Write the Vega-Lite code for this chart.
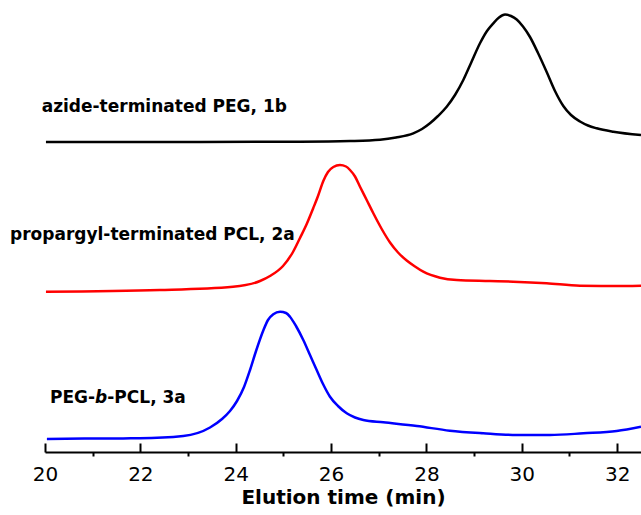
{
  "$schema": "https://vega.github.io/schema/vega-lite/v6.json",
  "width": 596,
  "height": 452,
  "autosize": {"type": "none"},
  "padding": {"left": 45, "top": 0, "right": 0, "bottom": 63},
  "background": "white",
  "config": {"view": {"stroke": null}},
  "datasets": {
    "curves": [
      {"t": 20.02, "y": 310, "s": "1b"},
      {"t": 21.15, "y": 310, "s": "1b"},
      {"t": 23.25, "y": 310, "s": "1b"},
      {"t": 25.35, "y": 310.3, "s": "1b"},
      {"t": 26.40, "y": 311, "s": "1b"},
      {"t": 27.026, "y": 312.3, "s": "1b"},
      {"t": 27.362, "y": 314.5, "s": "1b"},
      {"t": 27.724, "y": 318.7, "s": "1b"},
      {"t": 27.907, "y": 323, "s": "1b"},
      {"t": 28.074, "y": 328.7, "s": "1b"},
      {"t": 28.242, "y": 336, "s": "1b"},
      {"t": 28.425, "y": 345.3, "s": "1b"},
      {"t": 28.599, "y": 357, "s": "1b"},
      {"t": 28.773, "y": 372, "s": "1b"},
      {"t": 28.935, "y": 389, "s": "1b"},
      {"t": 29.123, "y": 408.7, "s": "1b"},
      {"t": 29.270, "y": 421, "s": "1b"},
      {"t": 29.402, "y": 428.7, "s": "1b"},
      {"t": 29.522, "y": 434.5, "s": "1b"},
      {"t": 29.648, "y": 437.5, "s": "1b"},
      {"t": 29.774, "y": 436, "s": "1b"},
      {"t": 29.893, "y": 432.5, "s": "1b"},
      {"t": 30.025, "y": 425.5, "s": "1b"},
      {"t": 30.172, "y": 415, "s": "1b"},
      {"t": 30.340, "y": 399, "s": "1b"},
      {"t": 30.522, "y": 380, "s": "1b"},
      {"t": 30.696, "y": 361, "s": "1b"},
      {"t": 30.871, "y": 346, "s": "1b"},
      {"t": 31.032, "y": 337, "s": "1b"},
      {"t": 31.221, "y": 330.5, "s": "1b"},
      {"t": 31.388, "y": 326.5, "s": "1b"},
      {"t": 31.571, "y": 323.7, "s": "1b"},
      {"t": 31.919, "y": 320.3, "s": "1b"},
      {"t": 32.50, "y": 317, "s": "1b"},

      {"t": 20.02, "y": 160.3, "s": "2a"},
      {"t": 22.41, "y": 162, "s": "2a"},
      {"t": 23.943, "y": 165.3, "s": "2a"},
      {"t": 24.509, "y": 171, "s": "2a"},
      {"t": 24.719, "y": 176, "s": "2a"},
      {"t": 24.992, "y": 186, "s": "2a"},
      {"t": 25.201, "y": 200, "s": "2a"},
      {"t": 25.348, "y": 214, "s": "2a"},
      {"t": 25.489, "y": 228, "s": "2a"},
      {"t": 25.627, "y": 244, "s": "2a"},
      {"t": 25.726, "y": 256, "s": "2a"},
      {"t": 25.837, "y": 271, "s": "2a"},
      {"t": 25.935, "y": 280, "s": "2a"},
      {"t": 26.047, "y": 285, "s": "2a"},
      {"t": 26.187, "y": 287, "s": "2a"},
      {"t": 26.313, "y": 285.5, "s": "2a"},
      {"t": 26.397, "y": 282, "s": "2a"},
      {"t": 26.502, "y": 275.5, "s": "2a"},
      {"t": 26.607, "y": 265.3, "s": "2a"},
      {"t": 26.747, "y": 252, "s": "2a"},
      {"t": 26.886, "y": 238.7, "s": "2a"},
      {"t": 27.062, "y": 223, "s": "2a"},
      {"t": 27.236, "y": 209.5, "s": "2a"},
      {"t": 27.404, "y": 199.5, "s": "2a"},
      {"t": 27.586, "y": 191.5, "s": "2a"},
      {"t": 27.760, "y": 185.5, "s": "2a"},
      {"t": 27.934, "y": 180.3, "s": "2a"},
      {"t": 28.284, "y": 174.3, "s": "2a"},
      {"t": 28.635, "y": 172, "s": "2a"},
      {"t": 29.33, "y": 171, "s": "2a"},
      {"t": 29.82, "y": 170.3, "s": "2a"},
      {"t": 30.52, "y": 168.7, "s": "2a"},
      {"t": 31.22, "y": 166.3, "s": "2a"},
      {"t": 31.92, "y": 166, "s": "2a"},
      {"t": 32.50, "y": 166.3, "s": "2a"},

      {"t": 20.04, "y": 13, "s": "3a"},
      {"t": 21.15, "y": 13.5, "s": "3a"},
      {"t": 21.99, "y": 13.7, "s": "3a"},
      {"t": 22.90, "y": 16, "s": "3a"},
      {"t": 23.461, "y": 24.5, "s": "3a"},
      {"t": 23.713, "y": 33, "s": "3a"},
      {"t": 23.880, "y": 41, "s": "3a"},
      {"t": 24.027, "y": 51, "s": "3a"},
      {"t": 24.174, "y": 65, "s": "3a"},
      {"t": 24.300, "y": 82, "s": "3a"},
      {"t": 24.426, "y": 101, "s": "3a"},
      {"t": 24.578, "y": 121.5, "s": "3a"},
      {"t": 24.677, "y": 132, "s": "3a"},
      {"t": 24.788, "y": 137.8, "s": "3a"},
      {"t": 24.929, "y": 140.3, "s": "3a"},
      {"t": 25.055, "y": 139, "s": "3a"},
      {"t": 25.138, "y": 135.3, "s": "3a"},
      {"t": 25.264, "y": 126, "s": "3a"},
      {"t": 25.417, "y": 112, "s": "3a"},
      {"t": 25.558, "y": 97, "s": "3a"},
      {"t": 25.698, "y": 82, "s": "3a"},
      {"t": 25.831, "y": 68, "s": "3a"},
      {"t": 25.977, "y": 55.3, "s": "3a"},
      {"t": 26.145, "y": 46, "s": "3a"},
      {"t": 26.328, "y": 38.7, "s": "3a"},
      {"t": 26.502, "y": 34.5, "s": "3a"},
      {"t": 26.676, "y": 32, "s": "3a"},
      {"t": 27.095, "y": 29.7, "s": "3a"},
      {"t": 27.80, "y": 26, "s": "3a"},
      {"t": 28.49, "y": 21.3, "s": "3a"},
      {"t": 29.19, "y": 18.7, "s": "3a"},
      {"t": 29.89, "y": 17, "s": "3a"},
      {"t": 30.59, "y": 17, "s": "3a"},
      {"t": 31.29, "y": 18.7, "s": "3a"},
      {"t": 31.99, "y": 21, "s": "3a"},
      {"t": 32.50, "y": 25.3, "s": "3a"}
    ],
    "labels": [
      {"txt": "azide-terminated PEG, 1b", "t": 19.93, "y": 340.3},
      {"txt": "propargyl-terminated PCL, 2a", "t": 19.266, "y": 212},
      {"txt": "PEG-", "t": 20.105, "y": 48.7},
      {"txt": "-PCL, 3a", "t": 21.307, "y": 48.7}
    ],
    "italic": [
      {"txt": "b", "t": 21.051, "y": 48.7}
    ]
  },
  "layer": [
    {
      "data": {"name": "curves"},
      "mark": {"type": "line", "interpolate": "monotone", "strokeWidth": 2.5},
      "encoding": {
        "x": {
          "field": "t", "type": "quantitative",
          "scale": {"domain": [20, 32.5], "nice": false, "zero": false},
          "axis": {
            "orient": "bottom",
            "values": [20, 22, 24, 26, 28, 30, 32],
            "title": "Elution time (min)",
            "grid": false, "ticks": false,
            "domainColor": "black", "domainWidth": 2,
            "labelFont": "DejaVu Sans", "labelFontSize": 20, "labelColor": "black",
            "labelPadding": 12, "labelFlush": false, "labelOverlap": false,
            "titleFont": "DejaVu Sans", "titleFontSize": 20, "titleFontWeight": "bold",
            "titleColor": "black", "titlePadding": 3
          }
        },
        "y": {
          "field": "y", "type": "quantitative",
          "scale": {"domain": [0, 452], "nice": false, "zero": false},
          "axis": null
        },
        "color": {
          "field": "s", "type": "nominal",
          "scale": {"domain": ["1b", "2a", "3a"], "range": ["#000000", "#ff0000", "#0000ff"]},
          "legend": null
        }
      }
    },
    {
      "data": {"name": "labels"},
      "mark": {"type": "text", "align": "left", "baseline": "alphabetic", "font": "DejaVu Sans", "fontSize": 17, "fontWeight": "bold", "color": "black"},
      "encoding": {
        "x": {
          "field": "t", "type": "quantitative",
          "axis": {
            "orient": "bottom",
            "values": [21, 23, 25, 27, 29, 31],
            "labels": false, "domain": false, "grid": false, "title": null,
            "tickColor": "black", "tickWidth": 2, "tickSize": 4
          }
        },
        "y": {"field": "y", "type": "quantitative", "axis": null},
        "text": {"field": "txt"}
      }
    },
    {
      "data": {"name": "italic"},
      "mark": {"type": "text", "align": "left", "baseline": "alphabetic", "font": "DejaVu Sans", "fontSize": 17, "fontWeight": "bold", "fontStyle": "italic", "color": "black"},
      "encoding": {
        "x": {
          "field": "t", "type": "quantitative",
          "axis": {
            "orient": "top", "offset": -452,
            "values": [20, 22, 24, 26, 28, 30, 32],
            "labels": false, "domain": false, "grid": false, "title": null,
            "tickColor": "black", "tickWidth": 2, "tickSize": 9
          }
        },
        "y": {"field": "y", "type": "quantitative", "axis": null},
        "text": {"field": "txt"}
      }
    }
  ],
  "resolve": {"axis": {"x": "independent"}}
}
